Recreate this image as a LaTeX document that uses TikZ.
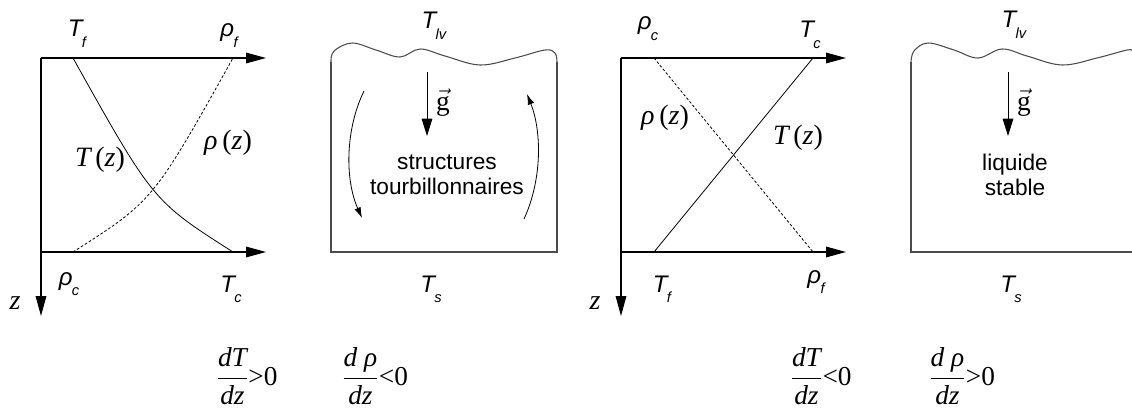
\documentclass[tikz,border=0pt]{standalone}
\usepackage{amsmath}
\usepackage{fontspec}
\setsansfont{Liberation Sans}
\newfontfamily\tms{Liberation Serif}
\usetikzlibrary{arrows.meta}

% sans italic label with a lowered index
\newcommand{\slab}[2]{{\sffamily\itshape\fontsize{18}{20}\selectfont #1\kern-0.5pt\raisebox{-8pt}{\fontsize{11}{11}\selectfont #2}}}
% serif italic variable
\newcommand{\tv}[1]{{\tms\itshape #1}}
\newcommand{\dfr}[2]{$\displaystyle\frac{\mbox{\tv{#1}}}{\mbox{\tv{#2}}}$}

\begin{document}
\begin{tikzpicture}[x=0.75pt, y=-0.75pt,
  axis/.style={line width=0.8pt, -{Triangle[length=15pt,width=8pt]}},
  wall/.style={line width=0.8pt, black!70},
  prof/.style={line width=0.6pt},
  dprof/.style={line width=0.6pt, dash pattern=on 2pt off 1.5pt},
  grav/.style={line width=0.7pt, -{Triangle[length=13pt,width=8pt]}},
  swirl/.style={line width=0.6pt, -{Latex[length=8pt,width=5pt]}},
  lbl/.style={inner sep=0pt, anchor=base},
  mlbl/.style={inner sep=0pt, font=\tms\fontsize{21}{24}\selectfont},
  flbl/.style={inner sep=0pt, font=\tms\fontsize{20.5}{24}\selectfont},
  txt/.style={inner sep=0pt, align=center, font=\sffamily\fontsize{17}{19}\selectfont}]

\useasboundingbox (0,0) rectangle (1132,410);

% profile 1: heated from below
\coordinate (o1) at (41,58);
\coordinate (b1) at (41,252);
\coordinate (z1) at (41,316);
\coordinate (tx1) at (266,58);
\coordinate (bx1) at (266,252);
\draw[axis] (o1) -- (z1);
\draw[axis] (o1) -- (tx1);
\draw[axis] (b1) -- (bx1);
\coordinate (tf1) at (73,58);
\coordinate (tc1) at (233,252);
\coordinate (rc1) at (73,252);
\coordinate (rf1) at (233,58);
\draw[prof] (tf1) .. controls (153,201) .. (tc1);
\draw[dprof] (rc1) .. controls (153,201) .. (rf1);
\node[lbl] (Tfl1) at (77,37) {\slab{T}{f}};
\node[lbl] (rfl1) at (229,37) {\slab{ρ}{f}};
\node[lbl] (rcl1) at (69,285) {\slab{ρ}{c}};
\node[lbl] (Tcl1) at (231,292) {\slab{T}{c}};
\node[mlbl] (Tz1) at (100,160) {\tv{T}\,(\tv{z})};
\node[mlbl] (rz1) at (228,143) {\tv{ρ}\,(\tv{z})};
\node[mlbl] (zl1) at (15,303) {\tv{z}};

% cell 1: unstable liquid
\coordinate (wa2) at (331,62);
\coordinate (wb2) at (331,252);
\coordinate (wc2) at (557,252);
\coordinate (wd2) at (557,62);
\draw[wall] (wa2) -- (wb2) -- (wc2) -- (wd2);
\draw[wall] plot[smooth, tension=0.6] coordinates {(331,62) (334,51) (352,43) (376,50) (400,57) (420,49) (445,56) (480,65) (515,58) (545,50) (555,53) (557,62)};
\node[lbl] (Tlv2) at (434,29) {\slab{T}{lv}};
\node[lbl] (Ts2) at (431,292) {\slab{T}{s}};
\coordinate (gs2) at (427,72);
\coordinate (ge2) at (427,136);
\draw[grav] (gs2) -- (ge2);
\node[flbl] (g2) at (443,103) {$\vec{\mbox{\tms g}}$};
\node[txt] (vort) at (447,175) {structures\\tourbillonnaires};
\coordinate (sla) at (364,91);
\coordinate (slb) at (362,218);
\coordinate (sra) at (524,219);
\coordinate (srb) at (527,94);
\draw[swirl] (sla) .. controls (345,130) and (345,180) .. (slb);
\draw[swirl] (sra) .. controls (542,180) and (542,132) .. (srb);

% profile 2: heated from above
\coordinate (o3) at (621,58);
\coordinate (b3) at (621,252);
\coordinate (z3) at (621,316);
\coordinate (tx3) at (846,58);
\coordinate (bx3) at (846,252);
\draw[axis] (o3) -- (z3);
\draw[axis] (o3) -- (tx3);
\draw[axis] (b3) -- (bx3);
\coordinate (tf3) at (654,252);
\coordinate (tc3) at (813,58);
\coordinate (rc3) at (654,58);
\coordinate (rf3) at (813,252);
\draw[prof] (tf3) -- (tc3);
\draw[dprof] (rc3) -- (rf3);
\node[lbl] (rcl3) at (648,30) {\slab{ρ}{c}};
\node[lbl] (Tcl3) at (810,38) {\slab{T}{c}};
\node[lbl] (Tfl3) at (662,292) {\slab{T}{f}};
\node[lbl] (rfl3) at (816,283) {\slab{ρ}{f}};
\node[mlbl] (rz3) at (665,118) {\tv{ρ}\,(\tv{z})};
\node[mlbl] (Tz3) at (798,138) {\tv{T}\,(\tv{z})};
\node[mlbl] (zl3) at (595,303) {\tv{z}};

% cell 2: stable liquid
\coordinate (wa4) at (911,62);
\coordinate (wb4) at (911,252);
\coordinate (wc4) at (1132,252);
\draw[wall] (wa4) -- (wb4) -- (wc4);
\draw[wall] plot[smooth, tension=0.6] coordinates {(911,62) (914,51) (928,43) (954,50) (978,58) (1002,49) (1027,56) (1062,65) (1097,58) (1127,50) (1132,51)};
\node[lbl] (Tlv4) at (1014,28) {\slab{T}{lv}};
\node[lbl] (Ts4) at (1011,292) {\slab{T}{s}};
\coordinate (gs4) at (1008,72);
\coordinate (ge4) at (1008,136);
\draw[grav] (gs4) -- (ge4);
\node[flbl] (g4) at (1024,103) {$\vec{\mbox{\tms g}}$};
\node[txt] (stab) at (1015,175) {liquide\\stable};

% gradients
\node[flbl] (gT1) at (247,376) {\dfr{dT}{dz}>0};
\node[flbl] (gr1) at (375,376) {\dfr{d ρ}{dz}<0};
\node[flbl] (gT3) at (821,376) {\dfr{dT}{dz}<0};
\node[flbl] (gr3) at (962,376) {\dfr{d ρ}{dz}>0};
\end{tikzpicture}
\end{document}
